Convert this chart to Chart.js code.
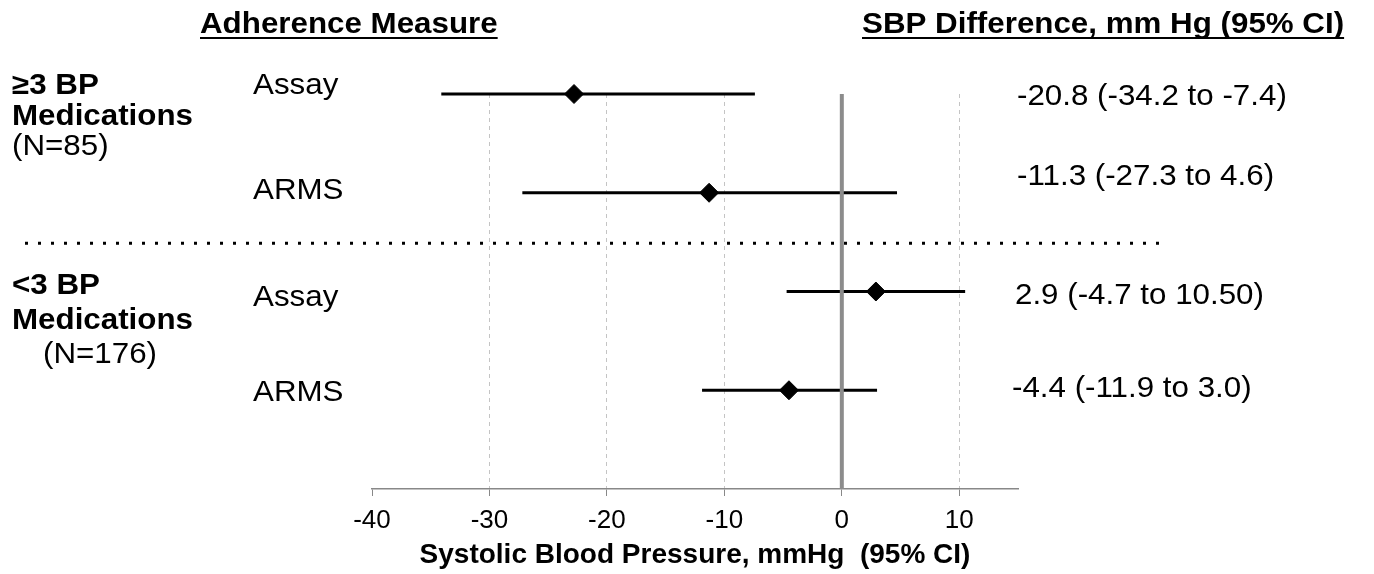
<!DOCTYPE html>
<html>
<head>
<meta charset="utf-8">
<script src="https://cdn.jsdelivr.net/npm/chart.js@4.4.1/dist/chart.umd.min.js"></script>
<style>
  html, body { margin: 0; padding: 0; background: #fff; }
  #wrap { width: 1374px; height: 574px; }
</style>
</head>
<body>
<div id="wrap"><canvas id="chart1"></canvas></div>
<script>
// forest plot data
const measures = ['Assay', 'ARMS', 'Assay', 'ARMS'];
const rowPos = [4, 3, 2, 1];
const estimate = [-22.8, -11.3, 2.9, -4.5];
const lower = [-34.1, -27.2, -4.7, -11.9];
const upper = [-7.4, 4.7, 10.5, 3.0];
const ciText = ['-20.8 (-34.2 to -7.4)', '-11.3 (-27.3 to 4.6)', '2.9 (-4.7 to 10.50)', '-4.4 (-11.9 to 3.0)'];
const groupTop = ['\u22653 BP', 'Medications', '(N=85)'];
const groupBottom = ['<3 BP', 'Medications', '(N=176)'];
const xMin = -40, xMax = 15, xStep = 10;
const separatorAt = 2.5;

const FONT = '"Liberation Sans", Arial, sans-serif';
const SX = 1.08; // text in the figure is a bit wider than normal

function txt(ctx, s, x, y, bold, size, align) {
    ctx.save();
    ctx.font = (bold ? 'bold ' : '') + size + 'px ' + FONT;
    ctx.fillStyle = '#000';
    ctx.textBaseline = 'alphabetic';
    let w = ctx.measureText(s).width * SX;
    let left = x;
    if (align === 'center') left = x - w / 2;
    ctx.translate(left, y);
    ctx.scale(SX, 1);
    ctx.fillText(s, 0, 0);
    ctx.restore();
    return w;
}

const annotations = {
    id: 'annotations',
    beforeDatasetsDraw(chart) {
        const ctx = chart.ctx;
        const ys = chart.scales.y;
        // dotted separator between the two groups
        ctx.save();
        ctx.strokeStyle = '#000';
        ctx.lineWidth = 3;
        ctx.setLineDash([3, 10]);
        ctx.beginPath();
        const yy = ys.getPixelForValue(separatorAt) + 1;
        ctx.moveTo(25, yy);
        ctx.lineTo(1160, yy);
        ctx.stroke();
        ctx.restore();
    },
    afterDraw(chart) {
        const ctx = chart.ctx;
        // column headers, underlined
        let w = txt(ctx, 'Adherence Measure', 200, 33, true, 29);
        ctx.fillRect(200, 37, w, 2);
        w = txt(ctx, 'SBP Difference, mm Hg (95% CI)', 862, 33, true, 29);
        ctx.fillRect(862, 37, w, 2);

        // group labels
        txt(ctx, groupTop[0], 12, 94, true, 29);
        txt(ctx, groupTop[1], 12, 125, true, 29);
        txt(ctx, groupTop[2], 12, 155, false, 29);
        txt(ctx, groupBottom[0], 12, 294, true, 29);
        txt(ctx, groupBottom[1], 12, 329, true, 29);
        txt(ctx, groupBottom[2], 100, 363, false, 29, 'center');

        // measure names and CI text
        const nameY = [94, 199, 306, 401];
        const ciY = [105, 185, 304, 397];
        const ciX = [1017, 1017, 1015, 1012];
        measures.forEach((m, i) => {
            txt(ctx, m, 253, nameY[i], false, 29);
            txt(ctx, ciText[i], ciX[i], ciY[i], false, 29);
        });
    }
};

document.addEventListener('DOMContentLoaded', function() {
    const ciSets = rowPos.map((r, i) => ({
        type: 'line',
        data: [{ x: lower[i], y: r }, { x: upper[i], y: r }],
        borderColor: '#000',
        borderWidth: 3,
        pointRadius: 0,
        fill: false,
        clip: false
    }));

    const ctx1 = document.getElementById('chart1').getContext('2d');
    new Chart(ctx1, {
        type: 'scatter',
        data: {
            datasets: [
                {
                    type: 'line',
                    data: [{ x: 0, y: 0 }, { x: 0, y: 4 }],
                    borderColor: '#8c8c8c',
                    borderWidth: 4,
                    pointRadius: 0
                },
                ...ciSets,
                {
                    data: rowPos.map((r, i) => ({ x: estimate[i], y: r })),
                    pointStyle: 'rectRot',
                    pointRadius: 9.5,
                    backgroundColor: '#000',
                    borderColor: '#000',
                    borderWidth: 1,
                    clip: false
                }
            ]
        },
        options: {
            responsive: true,
            maintainAspectRatio: false,
            animation: false,
            layout: { padding: { left: 372, right: 356, top: 94, bottom: 0 } },
            plugins: { legend: { display: false }, tooltip: { enabled: false } },
            scales: {
                x: {
                    type: 'linear',
                    min: xMin,
                    max: xMax,
                    afterFit: s => { s.height = 85; },
                    ticks: {
                        stepSize: xStep,
                        includeBounds: false,
                        color: '#000',
                        padding: 9,
                        font: { family: FONT, size: 26 }
                    },
                    grid: {
                        color: c => (c.tick && (c.tick.value === 0 || c.tick.value === xMin)) ? 'rgba(0,0,0,0)' : '#c4c4c4',
                        lineWidth: 1,
                        tickColor: '#888',
                        tickLength: 7
                    },
                    border: { color: '#888', width: 1.5, dash: [4, 4] },
                    title: {
                        display: true,
                        text: 'Systolic Blood Pressure, mmHg  (95% CI)',
                        color: '#000',
                        font: { family: FONT, size: 28, weight: 'bold' },
                        padding: { top: 0, bottom: 2 }
                    }
                },
                y: {
                    display: false,
                    min: 0,
                    max: 4
                }
            }
        },
        plugins: [annotations]
    });
});
</script>
</body>
</html>
